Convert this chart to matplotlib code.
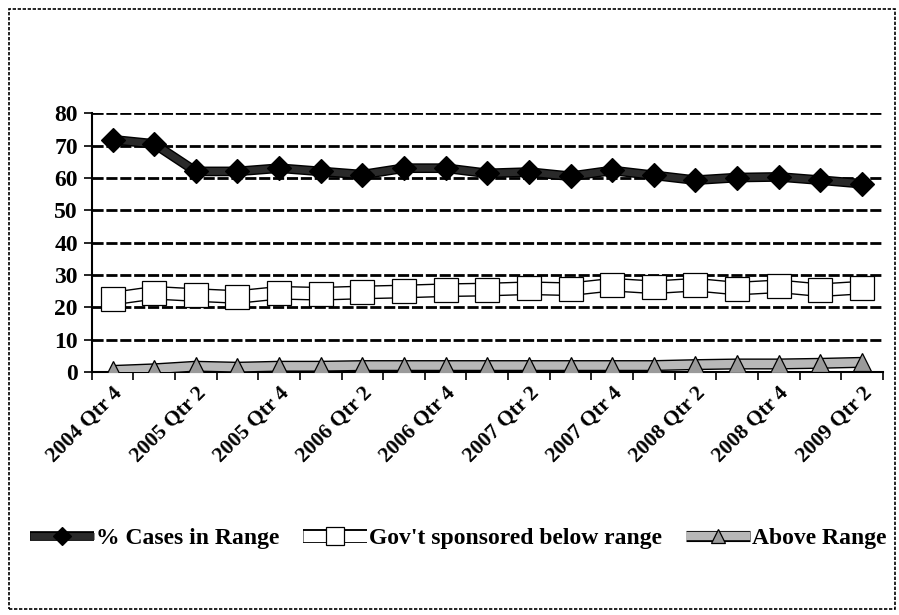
import matplotlib
matplotlib.use('Agg')
import matplotlib.pyplot as plt
import matplotlib.patheffects as pe
from matplotlib.patches import Rectangle
import numpy as np

# quarters 2004 Qtr 4 .. 2009 Qtr 2
quarters = ['2004 Qtr 4', '2005 Qtr 1', '2005 Qtr 2', '2005 Qtr 3', '2005 Qtr 4',
            '2006 Qtr 1', '2006 Qtr 2', '2006 Qtr 3', '2006 Qtr 4', '2007 Qtr 1',
            '2007 Qtr 2', '2007 Qtr 3', '2007 Qtr 4', '2008 Qtr 1', '2008 Qtr 2',
            '2008 Qtr 3', '2008 Qtr 4', '2009 Qtr 1', '2009 Qtr 2']
in_range = [71.8, 70.5, 62.0, 62.0, 63.0, 62.0, 61.0, 63.0, 63.0, 61.4,
            61.8, 60.5, 62.3, 60.8, 59.3, 60.1, 60.3, 59.3, 58.2]
gov_below = [22.7, 24.5, 23.8, 23.2, 24.5, 24.2, 24.6, 24.9, 25.3, 25.5,
             25.9, 25.6, 27.0, 26.2, 27.0, 25.8, 26.5, 25.3, 26.1]
above = [0.5, 1.0, 1.8, 1.5, 1.8, 1.8, 2.0, 2.0, 2.0, 2.0,
         2.0, 2.0, 2.0, 2.0, 2.3, 2.5, 2.5, 2.7, 3.0]
yticks = [0, 10, 20, 30, 40, 50, 60, 70, 80]
series_names = ['% Cases in Range', "Gov't sponsored below range", 'Above Range']

plt.rcParams['font.family'] = ['Liberation Serif', 'DejaVu Serif']
plt.rcParams['font.weight'] = 'bold'

fig = plt.figure(figsize=(8.99, 6.15), dpi=100)
ax = fig.add_axes([0.102, 0.395, 0.880, 0.421])

x = np.arange(len(quarters))


def outlined(y, fill, lw, marker, ms, mfc, z):
    # thick coloured line with a thin black outline, then the markers on top
    ln, = ax.plot(x, y, color=fill, lw=lw, solid_capstyle='butt', zorder=z,
                  path_effects=[pe.Stroke(linewidth=lw + 2, foreground='black'),
                                pe.Normal()])
    mk, = ax.plot(x, y, ls='none', marker=marker, ms=ms, mfc=mfc, mec='black',
                  mew=0.9, zorder=z + 0.5)
    return ln, mk


h_above = outlined(above, '#b8b8b8', 6, '^', 13, '#9a9a9a', 3)
h_gov = outlined(gov_below, 'white', 8, 's', 17, 'white', 3)
h_in = outlined(in_range, '#2a2a2a', 5, 'D', 12, 'black', 4)

ax.set_xlim(-0.5, len(quarters) - 0.5)
ax.set_ylim(0, 80)
ax.set_yticks(yticks)
ax.yaxis.grid(True, color='black', lw=2.0, ls=(0, (4, 1)))
ax.set_axisbelow(True)

ax.set_xticks(np.arange(-0.5, len(quarters), 1.0), minor=True)
ax.set_xticks(x[::2])
ax.set_xticklabels([quarters[i] for i in x[::2]], rotation=45, ha='right',
                   rotation_mode='anchor', fontsize=15.5)
ax.tick_params(axis='x', which='major', length=0, pad=8)
ax.tick_params(axis='x', which='minor', length=6, width=1.2, color='black')
ax.tick_params(axis='y', length=6, width=1.2, labelsize=17, pad=4)

for s in ['top', 'right']:
    ax.spines[s].set_visible(False)
ax.spines['left'].set_linewidth(1.5)
ax.spines['bottom'].set_linewidth(1.5)

fig.legend([h_in, h_gov, h_above], series_names,
           loc='center', bbox_to_anchor=(0.51, 0.125), ncol=3, frameon=False,
           fontsize=17, handlelength=2.7, columnspacing=1.0,
           handletextpad=0.1, markerscale=0.8)

fig.patches.append(Rectangle((0.01, 0.01), 0.985, 0.975, transform=fig.transFigure,
                             fill=False, ec='black', lw=1.2, ls=(0, (2, 1))))

fig.savefig('out.png', dpi=100)
